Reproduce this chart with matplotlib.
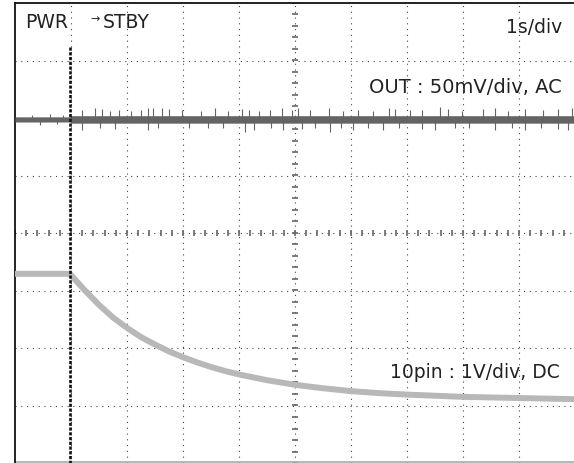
import matplotlib.pyplot as plt
import numpy as np

# screen is 10 x 8 divisions, center line at 0
trigger_t = 0.98

# OUT (50mV/div, AC) - noisy trace, core band envelope
out_level = 1.98
out_t = [0.0, 0.98, 1.0, 10.0]
out_hi = [0.04, 0.04, 0.06, 0.06]
out_lo = [0.05, 0.05, 0.07, 0.07]
# noise spikes: (time, height above / below the trace)
spike_up_t = [0.30, 0.62, 0.85, 1.19, 1.42, 1.56, 1.70, 1.86, 2.08, 2.25, 2.38, 2.47, 2.62,
              2.75, 2.98, 3.33, 3.57, 3.81, 4.05, 4.17, 4.35, 4.55, 4.76, 4.94, 5.06, 5.27,
              5.60, 5.86, 6.13, 6.40, 6.67, 6.79, 7.05, 7.26, 7.59, 7.74, 7.98, 8.36, 8.57,
              8.81, 9.11, 9.43, 9.70, 9.94]
spike_up_h = [0.08, 0.09, 0.08, 0.16, 0.19, 0.17, 0.14, 0.16, 0.14, 0.16, 0.20, 0.19, 0.19,
              0.17, 0.16, 0.14, 0.20, 0.14, 0.17, 0.16, 0.14, 0.16, 0.19, 0.16, 0.19, 0.16,
              0.20, 0.14, 0.16, 0.14, 0.19, 0.17, 0.16, 0.16, 0.21, 0.17, 0.14, 0.17, 0.20,
              0.14, 0.17, 0.16, 0.17, 0.19]
spike_dn_t = [0.45, 0.75, 1.19, 1.52, 1.79, 2.38, 2.56, 3.10, 3.45, 3.72, 4.11, 4.26, 4.58,
              4.79, 5.12, 5.36, 5.63, 5.83, 6.04, 6.31, 6.58, 6.85, 7.26, 7.50, 7.86, 8.10,
              8.57, 8.87, 9.11, 9.40, 9.70, 9.88]
spike_dn_h = [0.10, 0.09, 0.19, 0.16, 0.17, 0.19, 0.16, 0.16, 0.15, 0.16, 0.23, 0.19, 0.16,
              0.19, 0.17, 0.16, 0.22, 0.16, 0.19, 0.16, 0.18, 0.16, 0.17, 0.19, 0.16, 0.16,
              0.18, 0.16, 0.19, 0.16, 0.17, 0.19]

# 10pin (1V/div, DC) - decays after the trigger
pin_t = [0.0, 0.98, 1.25, 1.5, 1.75, 2.0, 2.25, 2.5, 2.75, 3.0, 3.25, 3.5, 3.75,
         4.0, 4.5, 5.0, 5.5, 6.0, 6.5, 7.0, 8.0, 9.0, 10.0]
pin_v = [-0.71, -0.71, -1.00, -1.25, -1.47, -1.65, -1.81, -1.94, -2.06, -2.16, -2.25,
         -2.33, -2.40, -2.46, -2.56, -2.64, -2.70, -2.75, -2.785, -2.81, -2.85, -2.87, -2.89]

fig = plt.figure(figsize=(5.74, 4.63), dpi=100)
ax = fig.add_axes([15 / 574, 0, 560 / 574, 460 / 463])
ax.set_xlim(0, 10)
ax.set_ylim(-4, 4)
ax.set_xticks([])
ax.set_yticks([])
for side in ["right", "bottom"]:
    ax.spines[side].set_visible(False)
for side in ["left", "top"]:
    ax.spines[side].set_linewidth(1.3)
    ax.spines[side].set_color("#111111")
ax.axhline(-3.977, color="#aaaaaa", lw=1.2)

# graticule
dots = dict(color="#444444", lw=0.8, linestyle=(0, (1, 4.2)), zorder=1)
for gx in range(1, 10):
    ax.axvline(gx, **dots)
for gy in range(-3, 4):
    ax.axhline(gy, **dots)
minor = np.arange(0, 10.01, 0.2)
ax.plot(minor, np.zeros_like(minor), "|", color="#666666", ms=5, mew=1.2, zorder=1)
minor_y = np.arange(-4, 4.01, 0.2)
ax.plot(np.full_like(minor_y, 5), minor_y, "_", color="#666666", ms=5, mew=1.2, zorder=1)

# traces
ax.plot(pin_t, pin_v, color="#b8b8b8", lw=4.3, solid_capstyle="butt",
        solid_joinstyle="round", zorder=3)
ax.fill_between(out_t, [out_level + h for h in out_hi], [out_level - h for h in out_lo],
                color="#646464", lw=0, zorder=3)
ax.vlines(spike_up_t, out_level, [out_level + h for h in spike_up_h], color="#646464", lw=0.8, zorder=3)
ax.vlines(spike_dn_t, [out_level - h for h in spike_dn_h], out_level, color="#646464", lw=0.8, zorder=3)

# trigger marker (starts below the title text)
ax.plot([trigger_t, trigger_t], [3.23, -4], color="#111111", lw=1.9,
        linestyle=(0, (1.2, 0.6)), zorder=4)

font = dict(family=["DejaVu Sans"], color="#222222")
ax.text(0.18, 3.56, "PWR", fontsize=13.5, va="baseline", ha="left", **font)
ax.text(1.43, 3.72, "\u2192", fontsize=8, va="center", ha="center", **font)
ax.text(1.57, 3.56, "STBY", fontsize=13.5, va="baseline", ha="left", **font)
ax.text(9.78, 3.47, "1s/div", fontsize=13.5, va="baseline", ha="right", **font)
ax.text(9.76, 2.44, "OUT : 50mV/div, AC", fontsize=14, va="baseline", ha="right", **font)
ax.text(9.73, -2.53, "10pin : 1V/div, DC", fontsize=13.5, va="baseline", ha="right", **font)

fig.savefig("out.png", dpi=100)
